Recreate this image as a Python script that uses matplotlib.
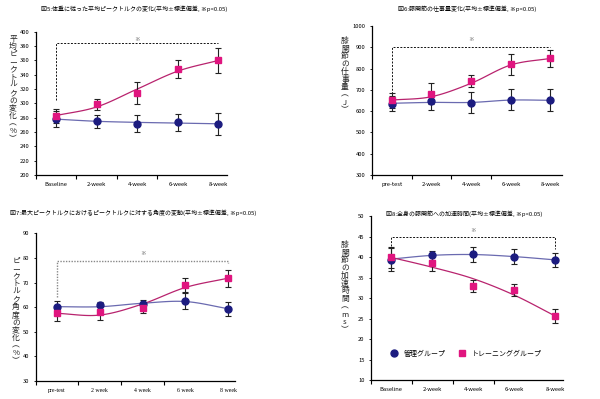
import numpy as np
import matplotlib
matplotlib.use('Agg')
import matplotlib.pyplot as plt

plt.rcParams['font.family'] = ['Noto Sans CJK JP', 'DejaVu Sans']

# ---- data ----
weeks_a = ['Baseline', '2-week', '4-week', '6-week', '8-week']
weeks_b = ['pre-test', '2-week', '4-week', '6-week', '8-week']
weeks_c = ['pre-test', '2 week', '4 week', '6 week', '8 week']

titles = [
    '図5:体重に従った平均ピークトルクの変化(平均±標準偏差, ※p<0.05)',
    '図6:膝関節の仕事量変化(平均±標準偏差, ※p<0.05)',
    '図7:最大ピークトルクにおけるピークトルクに対する角度の変動(平均±標準偏差, ※p<0.05)',
    '図8:全身の膝関節への加速時間(平均±標準偏差, ※p<0.05)',
]
ylabels = ['平均ピークトルクの変化︵%︶', '膝関節の仕事量︵J︶',
           'ピークトルク角度の変化︵%︶', '膝関節の加速時間︵ms︶']

# fig 5
ctrl5 = [278, 275.3, 271.6, 273.5, 271]
ctrl5_sd = [11, 9, 11.5, 12, 15]
ctrl5_fit = [278, 275, 273.5, 272.5, 271.5]
train5 = [282.8, 298.6, 314.4, 347.9, 360]
train5_sd = [10, 7.5, 15, 12, 17.5]
train5_fit = [283, 295, 320, 345, 360]

# fig 6
ctrl6 = [635, 646, 640, 654, 651]
ctrl6_sd = [35, 40, 50, 50, 52]
ctrl6_fit = [637, 641, 641, 652, 651]
train6 = [652, 682, 742, 820, 848]
train6_sd = [35, 48, 30, 50, 40]
train6_fit = [652, 668, 731, 817, 848]

# fig 7
ctrl7 = [60.2, 60.7, 61.4, 62.4, 59.4]
ctrl7_sd = [2.3, 1.5, 1.4, 3.2, 2.8]
ctrl7_fit = [60.2, 60.2, 61.6, 62.3, 59.4]
train7 = [57.5, 58.2, 59.5, 69, 71.8]
train7_sd = [3, 3.3, 1.7, 2.8, 3.5]
train7_fit = [57.5, 56.8, 61.3, 68, 71.8]

# fig 8
ctrl8 = [39.3, 40.4, 40.7, 40.1, 39.3]
ctrl8_sd = [2.8, 1.1, 1.8, 1.8, 1.8]
ctrl8_fit = [39.5, 40.4, 40.6, 40.1, 39.3]
train8 = [39.9, 38.6, 32.9, 31.9, 25.6]
train8_sd = [2.5, 2.0, 1.5, 1.5, 1.6]
train8_fit = [39.9, 37.5, 34.7, 30.7, 25.6]

NAVY = '#1c1c80'
NAVY_LINE = '#6a6ab0'
PINK = '#e0157f'
PINK_LINE = '#b8236e'


def smooth(x, y, n=20):
    # catmull-rom through the points, only for drawing the curve
    x = np.asarray(x, float)
    y = np.asarray(y, float)
    px = np.concatenate([[2 * x[0] - x[1]], x, [2 * x[-1] - x[-2]]])
    py = np.concatenate([[2 * y[0] - y[1]], y, [2 * y[-1] - y[-2]]])
    xs, ys = [], []
    t = np.linspace(0, 1, n)
    for i in range(1, len(px) - 2):
        for arr, out in ((px, xs), (py, ys)):
            p0, p1, p2, p3 = arr[i - 1:i + 3]
            out.extend(0.5 * ((2 * p1) + (-p0 + p2) * t +
                              (2 * p0 - 5 * p1 + 4 * p2 - p3) * t ** 2 +
                              (-p0 + 3 * p1 - 3 * p2 + p3) * t ** 3))
    return np.array(xs), np.array(ys)


def panel(ax, labels, ctrl, csd, cfit, train, tsd, tfit, ylim, ystep, xmax, font=None):
    x = np.arange(len(labels))
    sx, sy = smooth(x, cfit)
    ax.plot(sx, sy, color=NAVY_LINE, lw=0.9, zorder=2)
    sx, sy = smooth(x, tfit)
    ax.plot(sx, sy, color=PINK_LINE, lw=0.9, zorder=2)
    ax.errorbar(x, ctrl, yerr=csd, fmt='none', ecolor='#222222', elinewidth=0.8,
                capsize=2, capthick=0.8, zorder=3)
    ax.errorbar(x, train, yerr=tsd, fmt='none', ecolor='#222222', elinewidth=0.8,
                capsize=2, capthick=0.8, zorder=3)
    ax.plot(x, ctrl, 'o', color=NAVY, ms=5, zorder=4, label='管理グループ')
    ax.plot(x, train, 's', color=PINK, ms=4, zorder=4, label='トレーニンググループ')
    ax.set_xlim(-0.5, xmax)
    ax.set_ylim(*ylim)
    ax.set_yticks(np.arange(ylim[0], ylim[1] + ystep / 2, ystep))
    ax.set_xticks(np.arange(len(labels) - 1) - 0.5)
    ax.set_xticklabels([])
    ax.set_xticks(x, minor=True)
    ax.set_xticklabels(labels, minor=True, fontsize=4.2, family=font)
    ax.tick_params(axis='x', which='major', length=3, width=0.8, direction='out')
    ax.tick_params(axis='x', which='minor', length=0, pad=5)
    ax.tick_params(axis='y', length=1.5, width=0.6, labelsize=4.2, pad=3)
    for s in ['top', 'right']:
        ax.spines[s].set_visible(False)
    for s in ['left', 'bottom']:
        ax.spines[s].set_linewidth(0.9)
    return x


fig = plt.figure(figsize=(6, 3.99), dpi=100)

ax1 = fig.add_axes([0.0595, 0.5614, 0.318, 0.359])
x = panel(ax1, weeks_a, ctrl5, ctrl5_sd, ctrl5_fit, train5, train5_sd, train5_fit,
          (200, 400), 20, 4.2)
ax1.plot([0, 0, 4], [304.7, 383.7, 383.7], ls=(0, (2, 1.5)), color='#111111', lw=0.7)
ax1.text(2, 389, '※', fontsize=4, color='#666666', ha='center', va='center')

ax2 = fig.add_axes([0.62, 0.5614, 0.316, 0.3734])
panel(ax2, weeks_b, ctrl6, ctrl6_sd, ctrl6_fit, train6, train6_sd, train6_fit,
      (300, 1000), 100, 4.28)
ax2.plot([0, 0, 4], [668, 903, 903], ls=(0, (2, 1.5)), color='#111111', lw=0.7)
ax2.text(2, 935, '※', fontsize=4, color='#666666', ha='center', va='center')

ax3 = fig.add_axes([0.0595, 0.0451, 0.332, 0.370])
panel(ax3, weeks_c, ctrl7, ctrl7_sd, ctrl7_fit, train7, train7_sd, train7_fit,
      (30, 90), 10, 4.16, font='Liberation Serif')
ax3.plot([0, 0, 4, 4], [64.3, 78.75, 78.75, 77.8], ls=(0, (1, 1)), color='#888888', lw=1.0)
ax3.text(2, 81.9, '※', fontsize=4, color='#666666', ha='center', va='center')

ax4 = fig.add_axes([0.618, 0.0476, 0.3205, 0.411])
panel(ax4, weeks_a, ctrl8, ctrl8_sd, ctrl8_fit, train8, train8_sd, train8_fit,
      (10, 50), 5, 4.19)
ax4.plot([0, 0, 4, 4], [42.6, 44.8, 44.8, 42.0], ls=(0, (2, 1.5)), color='#111111', lw=0.7)
ax4.text(2, 46.4, '※', fontsize=4, color='#666666', ha='center', va='center')
ax4.legend(loc='center left', bbox_to_anchor=(0.07, 0.16), ncol=2, frameon=False,
           fontsize=5, handletextpad=0.9, columnspacing=1.8, handlelength=1.0)

# titles
fig.text(134 / 600, 1 - 9 / 399, titles[0], fontsize=4.3, ha='center', va='center')
fig.text(467 / 600, 1 - 9 / 399, titles[1], fontsize=4.3, ha='center', va='center')
fig.text(133 / 600, 1 - 213 / 399, titles[2], fontsize=4.3, ha='center', va='center')
fig.text(464 / 600, 1 - 214 / 399, titles[3], fontsize=4.3, ha='center', va='center')

# vertical y labels
ylab_pos = [(13, 35), (345, 37), (16, 257), (345, 241)]
for lab, (px, py) in zip(ylabels, ylab_pos):
    fig.text(px / 600, 1 - py / 399, '\n'.join(lab), fontsize=5.6, ha='center',
             va='top', linespacing=0.95, color='#222222')

fig.savefig('out.png', dpi=100)
